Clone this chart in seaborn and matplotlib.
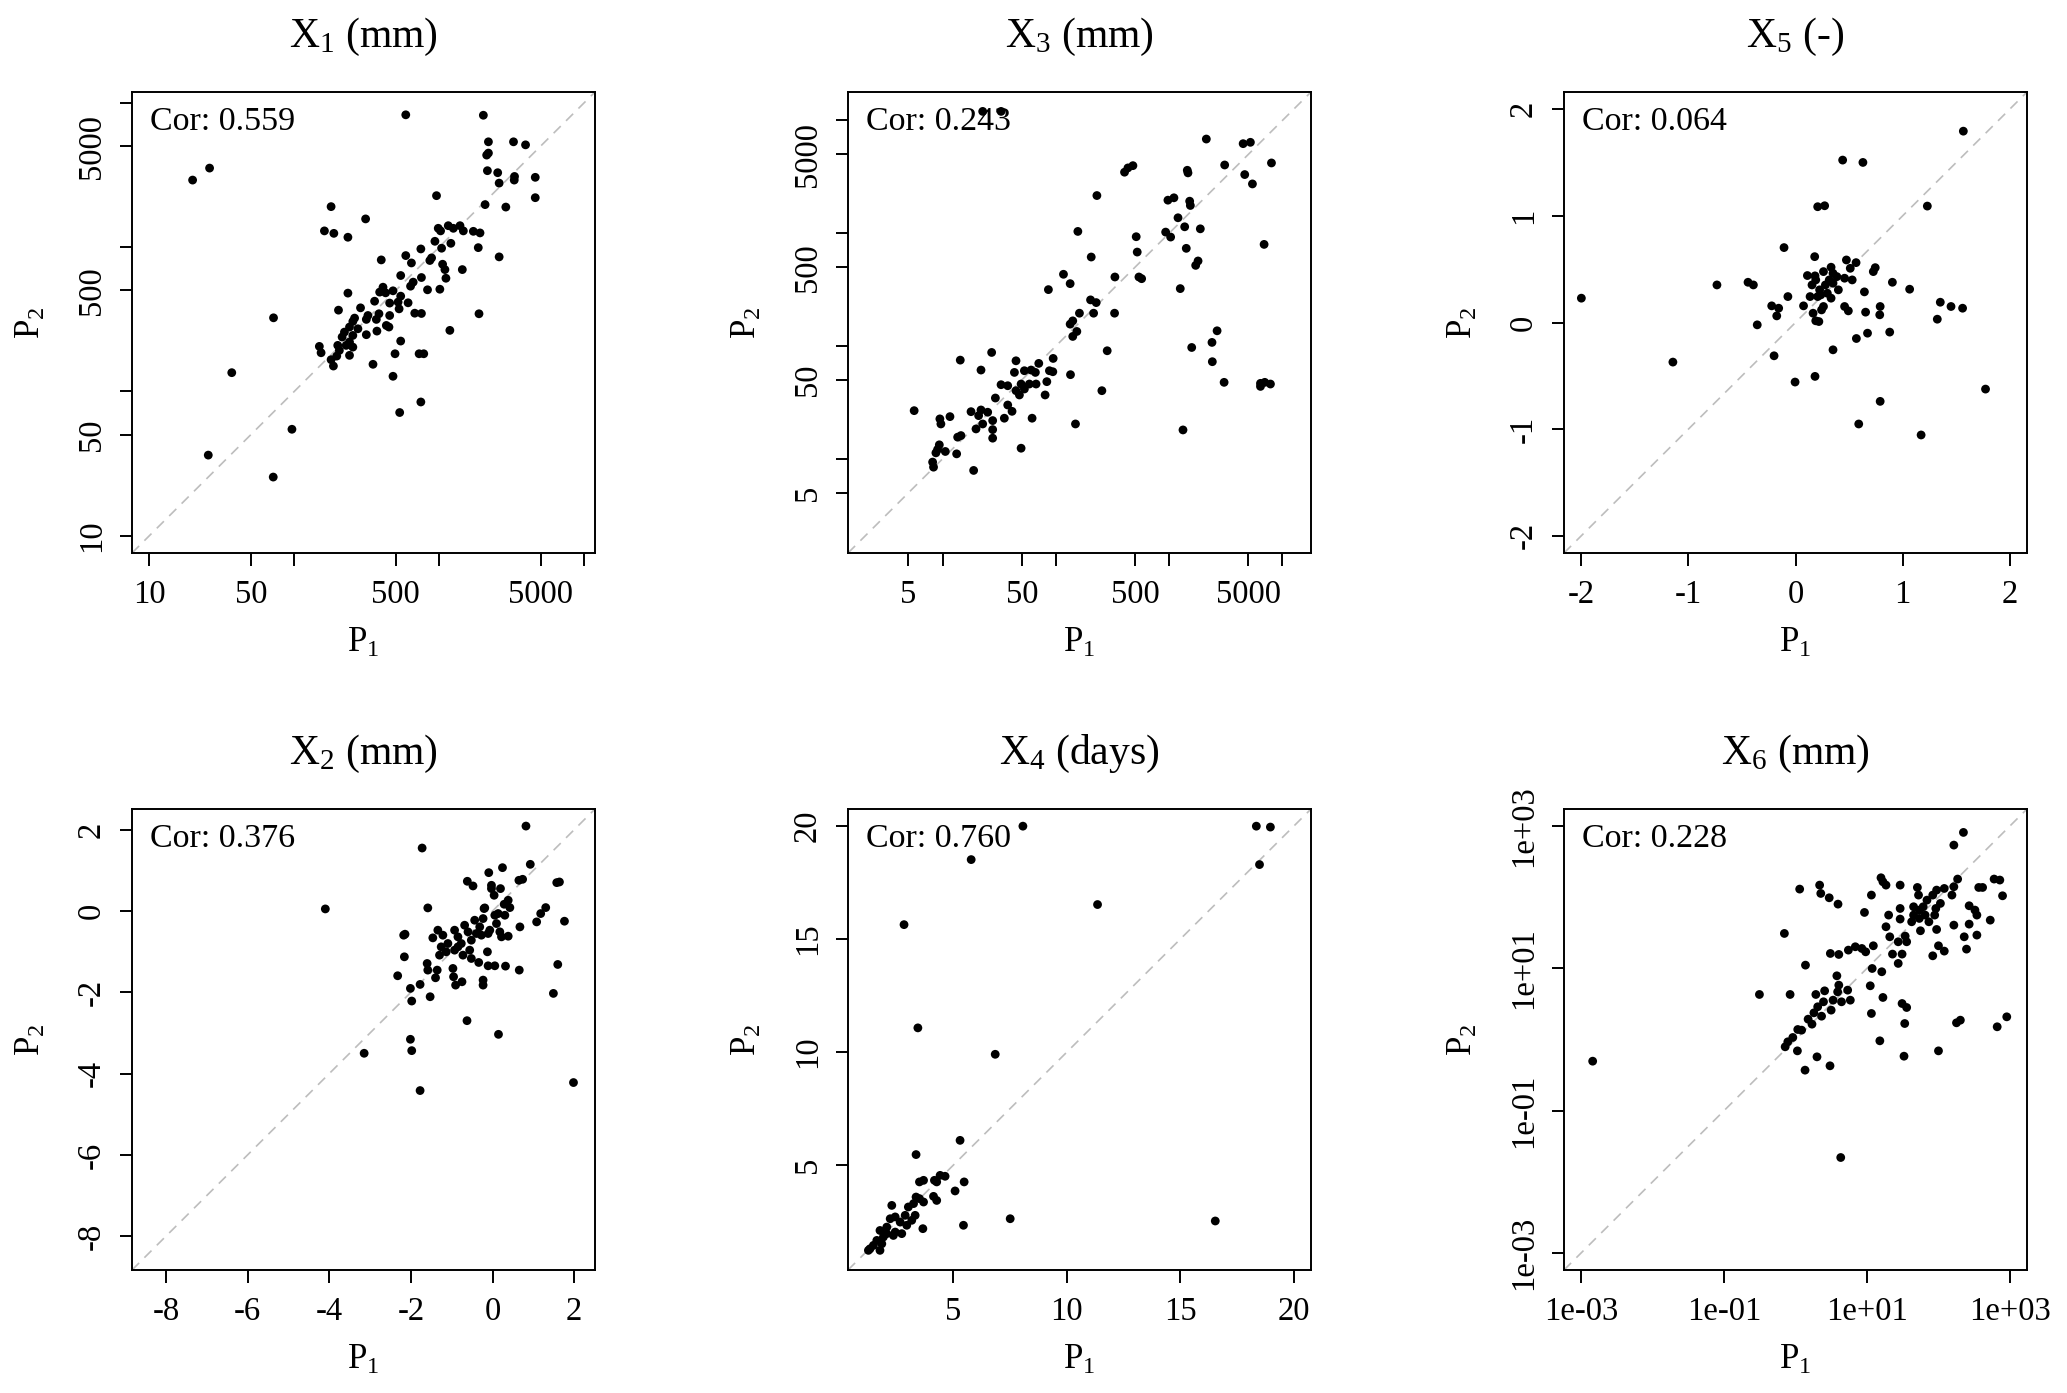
import numpy as np
import pandas as pd
import matplotlib
matplotlib.use("Agg")
import matplotlib.pyplot as plt
from matplotlib.ticker import NullLocator
import seaborn as sns

# ---------------- data ----------------
# X1 (mm), log10 values
X1_P1_log10 = [2.768, 3.303, 3.338, 3.511, 3.594, 3.326, 3.338, 1.415, 1.298, 3.331,
               3.402, 3.518, 3.516, 3.412, 3.661, 3.661, 2.980, 3.315, 3.458, 2.253,
               2.491, 2.207, 2.272, 2.369, 2.992, 3.008, 3.061, 3.096, 3.142, 3.165,
               3.234, 3.280, 3.268, 2.969, 3.079, 3.015, 2.872, 2.768, 2.807, 2.946,
               2.934, 3.412, 2.599, 3.022, 3.038, 3.158, 2.733, 2.876, 3.045, 2.819,
               2.801, 2.918, 3.003, 2.611, 2.588, 2.629, 2.680, 2.733, 2.369, 2.553,
               2.657, 2.715, 2.784, 2.722, 2.304, 2.456, 2.507, 2.583, 2.657, 2.415,
               2.403, 2.496, 2.565, 2.830, 2.876, 3.273, 1.856, 2.634, 2.652, 2.569,
               2.496, 2.438, 2.380, 2.345, 2.329, 2.403, 2.380, 2.357, 2.403, 2.380,
               2.299, 2.310, 3.072, 2.733, 2.172, 2.184, 2.253, 2.269, 2.292, 2.694,
               2.860, 2.892, 2.542, 2.680, 1.568, 2.872, 2.726, 1.983, 1.406, 1.854]
X1_P2_log10 = [3.915, 3.912, 3.728, 3.728, 3.707, 3.636, 3.650, 3.546, 3.463, 3.528,
               3.514, 3.488, 3.463, 3.442, 3.482, 3.341, 3.355, 3.293, 3.276, 3.279,
               3.194, 3.111, 3.094, 3.067, 3.129, 3.111, 3.147, 3.129, 3.147, 3.111,
               3.108, 3.097, 2.995, 3.039, 3.025, 2.991, 2.986, 2.940, 2.889, 2.924,
               2.906, 2.931, 2.910, 2.880, 2.843, 2.843, 2.802, 2.788, 2.783, 2.756,
               2.728, 2.703, 2.707, 2.721, 2.687, 2.682, 2.696, 2.659, 2.680, 2.624,
               2.611, 2.618, 2.613, 2.571, 2.562, 2.578, 2.525, 2.537, 2.525, 2.507,
               2.484, 2.498, 2.498, 2.541, 2.539, 2.537, 2.509, 2.456, 2.445, 2.417,
               2.392, 2.433, 2.445, 2.410, 2.376, 2.387, 2.341, 2.318, 2.306, 2.249,
               2.318, 2.283, 2.422, 2.348, 2.311, 2.267, 2.219, 2.175, 2.244, 2.260,
               2.260, 2.260, 2.187, 2.104, 2.129, 1.926, 1.853, 1.737, 1.558, 1.406]

# X3 (mm), log10 values
X3_P1_log10 = [1.354, 1.516, 3.328, 3.653, 3.717, 3.903, 3.490, 3.667, 3.735, 2.606,
               2.636, 2.680, 3.160, 3.166, 2.362, 2.989, 3.042, 3.181, 3.187, 3.078,
               3.137, 3.275, 2.194, 2.709, 2.969, 3.013, 3.838, 3.151, 2.312, 2.718,
               3.255, 3.234, 2.067, 2.126, 2.521, 2.733, 2.757, 1.934, 3.098, 2.306,
               2.356, 2.333, 2.208, 2.518, 2.149, 2.126, 2.185, 2.149, 3.423, 3.378,
               3.199, 3.381, 2.453, 3.485, 3.806, 3.844, 3.894, 3.806, 2.406, 3.122,
               2.173, 1.976, 1.973, 1.943, 2.129, 1.920, 1.905, 1.849, 1.819, 1.781,
               1.722, 1.648, 1.634, 1.433, 1.339, 1.156, 1.766, 1.825, 1.693, 1.516,
               1.575, 1.648, 1.722, 1.678, 1.466, 1.575, 1.613, 1.545, 1.790, 1.339,
               1.251, 1.318, 1.398, 1.442, 1.354, 1.295, 1.442, 1.442, 1.693, 1.133,
               1.065, 0.976, 0.985, 0.749, 0.971, 0.956, 0.941, 0.912, 0.920, 1.124,
               1.274, 1.024, 1.162]
X3_P2_log10 = [4.080, 4.080, 3.835, 3.794, 3.806, 3.623, 3.605, 3.520, 3.437, 3.541,
               3.579, 3.599, 3.558, 3.535, 3.334, 3.293, 3.314, 3.284, 3.246, 3.137,
               3.057, 3.039, 3.016, 2.969, 3.010, 2.966, 2.901, 2.866, 2.789, 2.833,
               2.754, 2.715, 2.636, 2.553, 2.612, 2.612, 2.597, 2.500, 2.509, 2.409,
               2.385, 2.291, 2.291, 2.291, 2.223, 2.194, 2.129, 2.085, 2.135, 2.032,
               1.987, 1.861, 1.958, 1.678, 1.669, 1.678, 1.663, 1.642, 1.604, 1.256,
               1.309, 1.890, 1.772, 1.781, 1.746, 1.684, 1.566, 1.846, 1.766, 1.787,
               1.781, 1.869, 1.766, 1.943, 1.787, 1.875, 1.663, 1.663, 1.663, 1.657,
               1.648, 1.604, 1.619, 1.566, 1.539, 1.477, 1.421, 1.360, 1.360, 1.433,
               1.418, 1.383, 1.413, 1.339, 1.309, 1.265, 1.259, 1.183, 1.094, 1.192,
               1.374, 1.354, 1.309, 1.427, 1.124, 1.083, 1.053, 0.971, 0.926, 1.044,
               0.897, 1.065, 1.206]

# X5 (-)
X5_P1 = [-1.998, -1.144, -0.733, -0.443, -0.393, -0.357, -0.222, -0.157, -0.175, -0.200,
         -0.107, -0.071, -0.004, 0.075, 0.111, 0.179, 0.182, 0.207, 0.272, 0.440,
         0.629, 1.566, 1.230, 0.164, 0.189, 0.218, 0.243, 0.261, 0.154, 0.189,
         0.225, 0.261, 0.332, 0.297, 0.350, 0.400, 0.386, 0.475, 0.511, 0.529,
         0.458, 0.565, 0.350, 0.207, 0.332, 0.350, 0.458, 0.493, 0.568, 0.590,
         0.643, 0.654, 0.672, 0.744, 0.726, 0.790, 0.786, 0.904, 0.879, 0.790,
         1.065, 1.172, 1.323, 1.351, 1.451, 1.559, 1.773, 0.182, 0.279, 0.236,
         0.136, 0.315]
X5_P2 = [0.228, -0.371, 0.352, 0.377, 0.352, -0.022, 0.156, 0.134, 0.062, -0.312,
         0.702, 0.243, -0.558, 0.156, 0.440, 0.617, -0.505, 1.085, 1.094, 1.522,
         1.500, 1.793, 1.091, 0.087, 0.016, 0.009, 0.118, 0.150, 0.352, 0.399,
         0.306, 0.477, 0.518, 0.274, 0.368, 0.306, 0.430, 0.586, 0.508, 0.399,
         0.415, 0.561, 0.461, 0.243, 0.228, -0.256, 0.150, 0.109, -0.150, -0.951,
         0.287, 0.097, -0.100, 0.514, 0.477, 0.150, 0.072, 0.377, -0.090, -0.739,
         0.312, -1.054, 0.031, 0.190, 0.150, 0.134, -0.624, 0.437, 0.352, 0.259,
         0.243, 0.399]

# X2 (mm)
X2_P1 = [0.819, -1.724, -4.095, 0.925, -0.092, 0.244, -0.617, -0.478, -0.026, 0.195,
         0.039, 0.646, 0.737, 1.573, 1.639, -1.585, -0.190, 0.384, 0.425, 0.138,
         0.302, 1.303, 1.180, 1.081, 1.762, 0.671, 1.598, 1.491, 1.983, -2.176,
         -2.143, -2.159, -2.323, -2.011, -1.979, -1.774, -1.528, -2.011, -1.979, -3.144,
         -1.774, -0.625, 0.146, -1.601, -1.585, -1.396, -1.355, -1.339, -1.462, -1.216,
         -1.093, -1.298, -1.134, -0.929, -0.847, -0.683, -0.600, -0.765, -0.519, -0.396,
         -0.313, -0.437, -0.231, -0.272, -0.108, -0.067, -0.929, -0.559, -0.519, -0.338,
         -0.108, 0.056, 0.318, 0.655, -0.970, -0.954, -0.904, -0.748, -0.231, -0.231,
         -0.125, 0.179, 0.220, 0.384, 0.097, 0.285, -0.207, 0.056, -0.847, -0.724,
         -1.257, -0.026]
X2_P2 = [2.090, 1.550, 0.052, 1.149, 0.944, 1.067, 0.732, 0.617, 0.633, 0.552,
         0.388, 0.756, 0.781, 0.699, 0.715, 0.077, 0.077, 0.265, 0.085, -0.062,
         -0.103, 0.085, -0.062, -0.267, -0.250, -0.390, -1.314, -2.026, -4.219, -0.594,
         -0.570, -1.126, -1.592, -1.903, -2.214, -1.805, -2.108, -3.155, -3.434, -3.499,
         -4.416, -2.697, -3.033, -1.290, -1.453, -1.642, -1.453, -0.471, -0.660, -0.594,
         -0.799, -1.085, -1.003, -0.471, -0.635, -0.349, -0.512, -0.799, -0.717, -0.553,
         -0.390, -0.226, -0.185, -0.594, -0.553, -0.471, -0.962, -0.962, -1.167, -1.265,
         -1.347, -1.347, -1.355, -1.453, -1.412, -1.617, -1.822, -1.740, -1.699, -1.822,
         -1.003, -0.512, -0.635, -0.619, -0.308, 0.167, 0.061, -0.103, -0.881, -1.085,
         -0.881, 0.552]

# X4 (days)
X4_P1 = [8.06, 18.35, 18.97, 18.49, 5.78, 11.35, 2.82, 3.43, 6.84, 5.29,
         3.35, 16.54, 7.50, 5.44, 5.07, 5.47, 4.63, 4.26, 4.16, 3.50,
         3.68, 4.26, 4.12, 3.68, 3.35, 3.24, 3.01, 2.28, 3.16, 3.65,
         3.31, 2.87, 2.43, 2.21, 2.65, 2.43, 2.06, 1.76, 1.91, 1.62,
         1.47, 1.25, 1.76, 2.35, 2.94, 2.06, 1.32, 1.84, 3.50, 4.41,
         2.72]
X4_P2 = [20.00, 20.00, 19.96, 18.30, 18.52, 16.53, 15.64, 11.07, 9.90, 6.09,
         5.46, 2.52, 2.62, 2.33, 3.85, 4.25, 4.50, 4.25, 4.32, 4.25,
         4.32, 3.43, 3.61, 3.36, 3.58, 3.29, 3.14, 3.21, 2.55, 2.18,
         2.77, 2.77, 2.70, 2.62, 2.47, 2.03, 2.25, 2.10, 1.81, 1.66,
         1.44, 1.22, 1.22, 1.88, 2.33, 1.96, 1.29, 1.51, 3.51, 4.54,
         1.96]

# X6 (mm), log10 values
X6_P1_log10 = [-2.839, 0.630, -0.507, -0.078, -0.158, 0.056, 0.335, 0.351, 0.469, 0.592,
               0.137, 0.485, 0.603, 0.737, 0.834, 0.925, 0.979, 1.086, 0.962, 1.059,
               1.193, 1.220, 1.263, 1.461, 1.702, 1.718, 2.212, 2.346, 2.265, 2.212,
               2.185, 2.560, 2.614, 2.775, 2.855, 2.893, 2.426, 2.507, 2.534, 2.721,
               2.426, 2.212, 2.357, 2.534, 2.389, 1.917, 1.997, 2.078, 1.971, 1.461,
               1.300, 1.461, 1.263, 1.316, 1.434, 1.531, 1.552, 1.354, 1.488, 1.434,
               1.649, 1.729, 1.783, 1.649, 1.729, 1.810, 1.863, 1.622, 1.745, 1.836,
               1.917, 1.971, 2.024, 1.960, 1.944, 2.078, 1.070, 1.204, 1.043, 1.220,
               1.059, 1.488, 1.552, 1.525, 1.177, 1.515, 1.997, 2.249, 2.303, 2.818,
               2.952, 0.576, 0.603, 0.587, 0.727, 0.764, 0.641, 0.405, 0.282, 0.389,
               0.308, 0.255, 0.496, 0.362, 0.174, 0.228, 0.083, 0.029, -0.040, -0.110,
               -0.147, 0.024, 0.298, 0.480, 0.131, 0.523]
X6_P2_log10 = [-0.307, -1.660, 0.630, 0.630, 1.487, 2.110, 2.166, 2.049, 1.988, 1.899,
               1.042, 1.206, 1.192, 1.253, 1.300, 1.276, 1.229, 1.314, 1.782, 2.026,
               2.269, 2.213, 2.166, 2.166, 2.133, 2.026, 2.728, 2.906, 2.251, 2.143,
               2.026, 2.133, 2.133, 2.251, 2.237, 2.016, 1.876, 1.815, 1.745, 1.674,
               1.618, 1.604, 1.440, 1.464, 1.267, 1.173, 1.314, 1.239, 1.543, 1.838,
               1.745, 1.689, 1.581, 1.440, 1.370, 1.450, 1.370, 1.197, 1.197, 1.066,
               1.862, 1.815, 1.862, 1.745, 1.698, 1.745, 1.651, 1.651, 1.525, 1.955,
               2.026, 2.096, 1.909, 1.838, 1.745, 2.119, 0.995, 0.949, 0.752, 0.588,
               0.363, 0.503, 0.447, 0.222, -0.021, -0.237, -0.162, 0.232, 0.269, 0.176,
               0.316, 0.892, 0.761, 0.667, 0.691, 0.550, 0.527, 0.681, 0.630, 0.527,
               0.457, 0.372, 0.410, 0.325, 0.283, 0.213, 0.129, 0.138, 0.026, -0.035,
               -0.105, -0.162, -0.246, -0.372, -0.433, 0.550]

titles = [r"$\mathregular{X_1}$ (mm)", r"$\mathregular{X_3}$ (mm)", r"$\mathregular{X_5}$ (-)",
          r"$\mathregular{X_2}$ (mm)", r"$\mathregular{X_4}$ (days)", r"$\mathregular{X_6}$ (mm)"]
cor_values = ["0.559", "0.243", "0.064", "0.376", "0.760", "0.228"]

ticks_X1 = [10, 50, 100, 500, 1000, 5000, 10000]
labels_X1 = ["10", "50", "", "500", "", "5000", ""]
ticks_X3 = [5, 10, 50, 100, 500, 1000, 5000, 10000]
labels_X3 = ["5", "", "50", "", "500", "", "5000", ""]
ticks_X5 = [-2, -1, 0, 1, 2]
labels_X5 = ["-2", "-1", "0", "1", "2"]
ticks_X2 = [-8, -6, -4, -2, 0, 2]
labels_X2 = ["-8", "-6", "-4", "-2", "0", "2"]
ticks_X4 = [5, 10, 15, 20]
labels_X4 = ["5", "10", "15", "20"]
ticks_X6 = [1e-3, 1e-1, 1e1, 1e3]
labels_X6 = ["1e-03", "1e-01", "1e+01", "1e+03"]

# ---------------- style ----------------
sns.set_style("ticks")
plt.rcParams.update({
    "font.family": ["Liberation Serif", "DejaVu Serif"],
    "mathtext.fontset": "custom",
    "mathtext.rm": "Liberation Serif",
    "mathtext.it": "Liberation Serif:italic",
    "mathtext.bf": "Liberation Serif:bold",
    "axes.edgecolor": "black",
    "text.color": "black",
    "xtick.color": "black",
    "ytick.color": "black",
    "axes.labelcolor": "black",
})

W, H = 2067, 1393
fig = plt.figure(figsize=(W / 100, H / 100), dpi=100)
fig.patch.set_facecolor("white")

col_left = [132, 848, 1564]
row_top = [92, 809]
box_w, box_h = 463, 461

panels = [
    dict(x=10 ** np.array(X1_P1_log10), y=10 ** np.array(X1_P2_log10), log=True,
         lim=(10 ** 0.88, 10 ** 4.073), ticks=ticks_X1, labels=labels_X1),
    dict(x=10 ** np.array(X3_P1_log10), y=10 ** np.array(X3_P2_log10), log=True,
         lim=(10 ** 0.165, 10 ** 4.252), ticks=ticks_X3, labels=labels_X3),
    dict(x=np.array(X5_P1), y=np.array(X5_P2), log=False,
         lim=(-2.16, 2.16), ticks=ticks_X5, labels=labels_X5),
    dict(x=np.array(X2_P1), y=np.array(X2_P2), log=False,
         lim=(-8.83, 2.51), ticks=ticks_X2, labels=labels_X2),
    dict(x=np.array(X4_P1), y=np.array(X4_P2), log=False,
         lim=(0.35, 20.76), ticks=ticks_X4, labels=labels_X4),
    dict(x=10 ** np.array(X6_P1_log10), y=10 ** np.array(X6_P2_log10), log=True,
         lim=(10 ** -3.24, 10 ** 3.235), ticks=ticks_X6, labels=labels_X6),
]

for i, p in enumerate(panels):
    r, c = divmod(i, 3)
    left = col_left[c] / W
    bottom = (H - row_top[r] - box_h) / H
    ax = fig.add_axes([left, bottom, box_w / W, box_h / H])
    df = pd.DataFrame({"P1": p["x"], "P2": p["y"]})
    if p["log"]:
        ax.set_xscale("log")
        ax.set_yscale("log")
    ax.axline((1, 1), (10, 10), color="#bdbdbd", lw=1.2, ls=(0, (6, 4.5)), zorder=1)
    sns.scatterplot(data=df, x="P1", y="P2", ax=ax, color="black", s=40,
                    linewidth=0, edgecolor="none", zorder=3, legend=False)
    ax.set_xlim(p["lim"])
    ax.set_ylim(p["lim"])
    ax.set_xticks(p["ticks"])
    ax.set_xticklabels(p["labels"])
    ax.set_yticks(p["ticks"])
    ax.set_yticklabels(p["labels"])
    ax.xaxis.set_minor_locator(NullLocator())
    ax.yaxis.set_minor_locator(NullLocator())
    ax.tick_params(axis="both", direction="out", length=9, width=1.4,
                   labelsize=23.5, pad=10, colors="black")
    ax.tick_params(axis="y", labelrotation=90, pad=9)
    for lab in ax.get_yticklabels():
        lab.set_va("center")
    for sp in ax.spines.values():
        sp.set_linewidth(1.4)
        sp.set_color("black")
        sp.set_visible(True)
    ax.set_xlabel("")
    ax.set_ylabel("")
    ax.text(0.5, -0.195, r"$\mathregular{P_1}$", transform=ax.transAxes,
            ha="center", va="center", fontsize=25)
    ax.text(-0.218, 0.5, r"$\mathregular{P_2}$", transform=ax.transAxes,
            ha="center", va="center", fontsize=25, rotation=90)
    ax.text(0.5, 1.12, titles[i], transform=ax.transAxes,
            ha="center", va="center", fontsize=30)
    ax.text(0.038, 0.935, "Cor: " + cor_values[i], transform=ax.transAxes,
            ha="left", va="center", fontsize=24.5, zorder=2)

fig.savefig("out.png", dpi=100, facecolor="white")
